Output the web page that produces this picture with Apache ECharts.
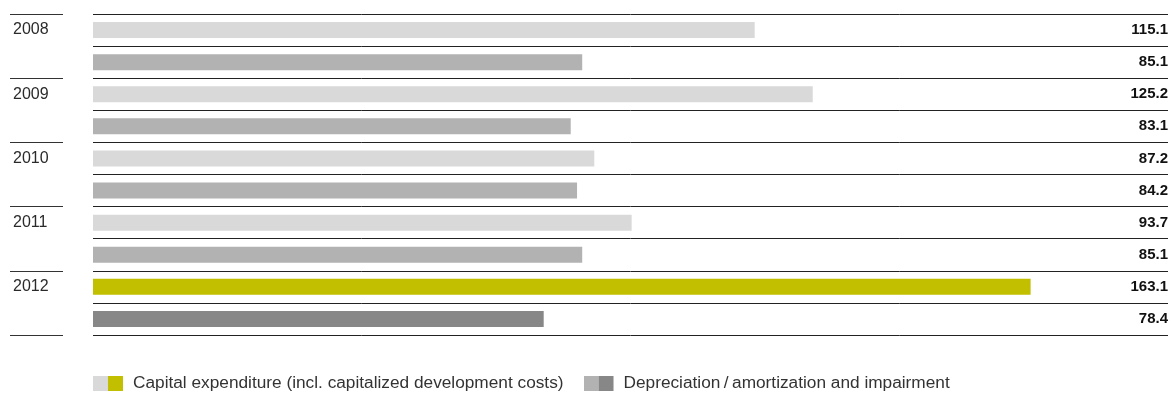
<!DOCTYPE html>
<html>
<head>
<meta charset="utf-8">
<script src="https://cdn.jsdelivr.net/npm/echarts@6/dist/echarts.min.js"></script>
<style>
  html, body { margin: 0; padding: 0; background: #fff; }
  #chart { width: 1171px; height: 393px; }
</style>
</head>
<body>
<div id="chart"></div>
<script>
const years = ['2008', '2009', '2010', '2011', '2012'];
const capex = [115.1, 125.2, 87.2, 93.7, 163.1];
const depreciation = [85.1, 83.1, 84.2, 85.1, 78.4];

const capexName = 'Capital expenditure (incl. capitalized development costs)';
const deprName = 'Depreciation\u2009/\u2009amortization and impairment';

// past years grey, current year highlighted
const capexColors = ['#d9d9d9', '#c1bf00'];
const deprColors = ['#b2b2b2', '#878787'];

const last = years.length - 1;

// each year takes two rows: capex then depreciation
const rowLabels = [];
const rowValues = [];
const capexData = [];
const deprData = [];
years.forEach((y, i) => {
  rowLabels.push(y, '');
  rowValues.push(capex[i].toFixed(1), depreciation[i].toFixed(1));
  capexData.push({
    value: capex[i],
    itemStyle: { color: i === last ? capexColors[1] : capexColors[0] }
  }, '-');
  deprData.push('-', {
    value: depreciation[i],
    itemStyle: { color: i === last ? deprColors[1] : deprColors[0] }
  });
});

// legend icon: old-years square + current-year square, with a little room after
function twoSquares(a, b) {
  const svg = '<svg xmlns="http://www.w3.org/2000/svg" width="35" height="15">' +
    '<rect x="0" y="0" width="15" height="15" fill="' + a + '"/>' +
    '<rect x="15" y="0" width="15" height="15" fill="' + b + '"/></svg>';
  return 'image://data:image/svg+xml;charset=utf-8,' + encodeURIComponent(svg);
}

const font = '"Liberation Sans", Arial, Helvetica, sans-serif';
const chart = echarts.init(document.getElementById('chart'), null, { renderer: 'canvas' });

const option = {
  backgroundColor: '#ffffff',
  animation: false,
  textStyle: { fontFamily: font },
  grid: [
    { left: 93, right: 3, top: 14, bottom: 58 },
    { left: 10, width: 53, top: 14, bottom: 58 }
  ],
  xAxis: [
    { gridIndex: 0, type: 'value', min: 0, max: 187, show: false },
    { gridIndex: 1, type: 'value', min: 0, max: 1, show: false }
  ],
  yAxis: [
    {
      gridIndex: 0,
      type: 'category',
      inverse: true,
      data: rowLabels,
      axisLine: { show: false },
      axisTick: { show: false },
      splitLine: { show: true, interval: 0, lineStyle: { color: '#222', width: 1 } },
      axisLabel: {
        interval: 0,
        align: 'left',
        margin: 80,
        color: '#2a2a2a',
        fontSize: 16,
        fontFamily: font
      }
    },
    {
      gridIndex: 0,
      type: 'category',
      inverse: true,
      position: 'right',
      data: rowValues,
      axisLine: { show: false },
      axisTick: { show: false },
      splitLine: { show: false },
      axisLabel: {
        interval: 0,
        align: 'right',
        margin: 0,
        color: '#111',
        fontSize: 15,
        fontWeight: 'bold',
        fontFamily: font
      }
    },
    {
      gridIndex: 1,
      type: 'category',
      inverse: true,
      data: years,
      axisLine: { show: false },
      axisTick: { show: false },
      axisLabel: { show: false },
      splitLine: { show: true, interval: 0, lineStyle: { color: '#333', width: 1 } }
    }
  ],
  legend: {
    left: 93,
    top: 375,
    padding: 0,
    itemWidth: 35,
    itemHeight: 15,
    itemGap: 20,
    textStyle: { fontSize: 17.25, color: '#333', fontFamily: font },
    data: [
      { name: capexName, icon: twoSquares(capexColors[0], capexColors[1]) },
      { name: deprName, icon: twoSquares(deprColors[0], deprColors[1]) }
    ]
  },
  series: [
    {
      name: capexName,
      type: 'bar',
      stack: 'row',
      xAxisIndex: 0,
      yAxisIndex: 0,
      barWidth: 16,
      data: capexData
    },
    {
      name: deprName,
      type: 'bar',
      stack: 'row',
      xAxisIndex: 0,
      yAxisIndex: 0,
      barWidth: 16,
      data: deprData
    }
  ]
};

chart.setOption(option);
</script>
</body>
</html>
